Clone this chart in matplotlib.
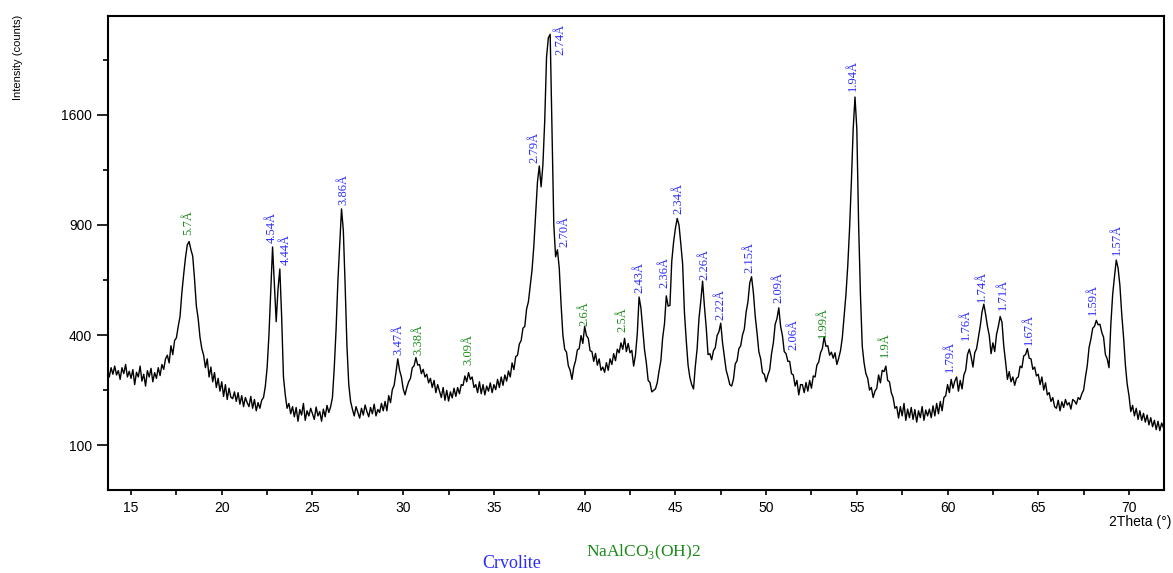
import numpy as np
import matplotlib
matplotlib.use("Agg")
import matplotlib.pyplot as plt

theta_start = 13.7
theta_step = 0.1
counts = [
    285, 262, 290,                                         # 13.7
    270, 295, 268, 281, 255, 290, 272, 300, 262, 279,      # 14
    258, 284, 240, 276, 262, 295, 250, 270, 236, 281,      # 15
    262, 288, 248, 275, 258, 290, 266, 300, 285, 318,      # 16
    330, 305, 362, 332, 380, 390, 432, 470, 568, 650,      # 17
    730, 795, 812, 770, 738, 628, 512, 462, 392, 352,      # 18
    330, 290, 318, 262, 292, 248, 275, 232, 258, 222,      # 19
    248, 208, 240, 200, 230, 206, 202, 220, 195, 218,      # 20
    188, 210, 182, 205, 192, 182, 208, 178, 200, 172,      # 21
    192, 178, 198, 205, 235, 290, 400, 580, 784, 610,      # 22
    450, 585, 676, 470, 262, 212, 178, 190, 165, 182,      # 23
    158, 180, 148, 175, 162, 190, 150, 172, 160, 178,      # 24
    165, 152, 181, 160, 170, 148, 176, 158, 185, 168,      # 25
    182, 205, 290, 420, 620, 800, 990, 870, 600, 360,      # 26
    240, 195, 176, 160, 182, 168, 155, 178, 162, 186,      # 27
    170, 158, 180, 165, 188, 160, 175, 168, 190, 172,      # 28
    195, 172, 210, 192, 226, 238, 275, 318, 282, 262,      # 29
    228, 212, 232, 248, 258, 290, 296, 322, 298, 300,      # 30
    272, 285, 262, 270, 245, 258, 232, 252, 218, 240,      # 31
    222, 205, 232, 198, 224, 196, 220, 204, 230, 208,      # 32
    232, 215, 240, 238, 265, 248, 275, 255, 262, 232,      # 33
    240, 218, 248, 215, 240, 212, 236, 222, 245, 218,      # 34
    240, 226, 255, 232, 262, 238, 268, 250, 280, 262,      # 35
    305, 284, 325, 330, 368, 380, 425, 432, 500, 530,      # 36
    600, 671, 790, 960, 1150, 1250, 1120, 1260, 1560, 2050,  # 37
    2210, 2240, 1500, 900, 735, 770, 680, 520, 400, 350,   # 38
    340, 296, 282, 255, 292, 312, 348, 352, 398, 370,      # 39
    432, 398, 388, 345, 342, 310, 336, 298, 318, 282,      # 40
    292, 276, 306, 282, 318, 300, 335, 312, 350, 338,      # 41
    372, 350, 388, 342, 370, 338, 346, 295, 330, 404,      # 42
    550, 505, 425, 348, 305, 252, 246, 220, 224, 228,      # 43
    245, 280, 312, 390, 442, 555, 512, 515, 712, 808,      # 44
    880, 936, 900, 800, 700, 486, 380, 298, 260, 240,      # 45
    228, 295, 352, 462, 532, 620, 512, 428, 332, 335,      # 46
    315, 345, 355, 398, 412, 444, 372, 325, 282, 262,      # 47
    240, 236, 255, 302, 312, 352, 362, 400, 422, 488,      # 48
    530, 612, 640, 568, 472, 408, 342, 318, 275, 270,      # 49
    248, 268, 284, 335, 372, 440, 462, 505, 432, 398,      # 50
    342, 335, 310, 310, 272, 268, 236, 252, 212, 240,      # 51
    240, 218, 246, 222, 252, 230, 265, 262, 298, 308,      # 52
    338, 352, 393, 360, 362, 330, 340, 320, 338, 300,      # 53
    320, 345, 390, 470, 560, 690, 880, 1150, 1500, 1733,   # 54
    1500, 900, 560, 360, 305, 272, 258, 225, 232, 205,     # 55
    222, 230, 268, 245, 282, 278, 295, 252, 248, 218,      # 56
    205, 178, 182, 155, 182, 160, 190, 150, 176, 156,      # 57
    180, 152, 175, 146, 172, 156, 182, 150, 174, 160,      # 58
    176, 156, 184, 160, 190, 165, 195, 172, 205, 210,      # 59
    240, 218, 255, 230, 250, 262, 222, 252, 228, 268,      # 60
    282, 332, 350, 325, 292, 338, 352, 390, 432, 488,      # 61
    520, 478, 432, 398, 335, 372, 342, 402, 432, 470,      # 62
    448, 360, 308, 255, 278, 248, 262, 238, 258, 262,      # 63
    295, 290, 328, 332, 352, 320, 318, 285, 292, 265,      # 64
    270, 240, 262, 225, 245, 212, 218, 195, 205, 182,      # 65
    178, 198, 172, 194, 180, 200, 186, 192, 176, 200,      # 66
    196, 188, 205, 200, 215, 225, 262, 296, 356, 385,      # 67
    425, 432, 455, 438, 440, 410, 392, 332, 318, 290,      # 68
    440, 560, 640, 719, 680, 600, 480, 393, 300, 242,      # 69
    210, 170, 185, 160, 178, 152, 172, 150, 166, 146,      # 70
    162, 140, 156, 136, 150, 130, 148, 128, 144, 134,      # 71
]

# peak labels: d-spacing, where the label sits (2theta, counts), phase
peak_labels = ["5.7Å", "4.54Å", "4.44Å", "3.86Å", "3.47Å", "3.38Å", "3.09Å",
               "2.79Å", "2.74Å", "2.70Å", "2.6Å", "2.5Å", "2.43Å", "2.36Å",
               "2.34Å", "2.26Å", "2.22Å", "2.15Å", "2.09Å", "2.06Å", "1.99Å",
               "1.94Å", "1.9Å", "1.79Å", "1.76Å", "1.74Å", "1.71Å", "1.67Å",
               "1.59Å", "1.57Å"]
peak_theta = [18.14, 22.77, 23.54, 26.68, 29.71, 30.81, 33.57,
              37.26, 38.69, 38.86, 40.01, 42.11, 43.04, 44.37,
              45.19, 46.62, 47.51, 49.10, 50.70, 51.53, 53.13,
              54.78, 56.54, 60.12, 61.00, 61.89, 63.04, 64.48,
              68.00, 69.33]
peak_base = [846, 804, 695, 1012, 331, 331, 298,
             1270, 2066, 784, 433, 411, 567, 589,
             961, 625, 456, 657, 525, 347, 389,
             1779, 324, 277, 382, 529, 496, 364,
             476, 744]
peak_phase = ["N", "C", "C", "C", "C", "N", "N",
              "C", "C", "C", "N", "N", "C", "C",
              "C", "C", "C", "C", "C", "C", "N",
              "C", "N", "C", "C", "C", "C", "C",
              "C", "C"]

phase_colors = {"C": "#2b2bff", "N": "#1a8a1a"}

assert len(counts) == 583
theta = theta_start + theta_step * np.arange(len(counts))

plt.rcParams["font.family"] = ["Liberation Sans", "DejaVu Sans"]

fig = plt.figure(figsize=(11.73, 5.73), dpi=100)
ax = fig.add_axes([108 / 1173, 1 - 490 / 573, 1056 / 1173, 474 / 573])

ax.plot(theta, counts, color="black", lw=1.0)

ax.set_yscale("function", functions=(lambda v: np.sqrt(np.clip(v, 0, None)), np.square))
ax.set_xlim(13.73, 71.93)
ax.set_ylim(35, 2400)
ax.set_yticks([100, 400, 900, 1600])
ax.set_yticks([225, 625, 1225, 2025], minor=True)
ax.set_xticks(np.arange(15, 71, 5))
ax.set_xticks(np.arange(17.5, 71, 5), minor=True)
ax.tick_params(which="both", direction="out", width=1.2, labelsize=10, colors="black")
ax.tick_params(axis="y", which="major", length=8, pad=3.5)
ax.tick_params(axis="y", which="minor", length=3.6)
ax.tick_params(axis="x", which="both", length=3.6, pad=4)
for sp in ax.spines.values():
    sp.set_linewidth(1.5)

for lab, tx, ty, ph in zip(peak_labels, peak_theta, peak_base, peak_phase):
    ax.text(tx, ty, lab, rotation=90, ha="center", va="bottom",
            fontsize=9, family="Liberation Serif", color=phase_colors[ph])

fig.text(18 / 1173, 1 - 15 / 573, "Intensity (counts)", rotation=90,
         ha="center", va="top", fontsize=8)
fig.text(1171 / 1173, 1 - 522 / 573, "2Theta (°)", ha="right", va="center", fontsize=10)

fig.text(643 / 1173, 1 - 552 / 573, r"NaAlCO$_\mathregular{3}$(OH)2", ha="center", va="center",
         fontsize=12.5, family="Liberation Serif", color=phase_colors["N"])
fig.text(512 / 1173, 1 - 564 / 573, "Crvolite", ha="center", va="center",
         fontsize=13, family="Liberation Serif", color=phase_colors["C"])

fig.savefig("out.png", dpi=100)
